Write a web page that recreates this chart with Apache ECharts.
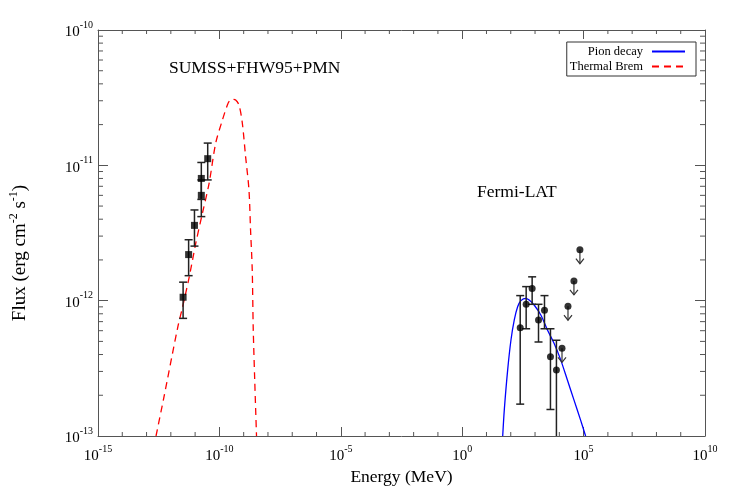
<!DOCTYPE html>
<html><head><meta charset="utf-8">
<script src="https://cdn.jsdelivr.net/npm/echarts@6/dist/echarts.min.js"></script>
<style>html,body{margin:0;padding:0;background:#fff}#c{width:732px;height:496px}</style>
</head><body><div id="c"></div>
<script>
// ---- data ----
const xMin = 1e-15, xMax = 1e10, yMin = 1e-13, yMax = 1e-10;
const xMinorTicks = [1e-14,1e-13,1e-12,1e-11,1e-9,1e-8,1e-7,1e-6,1e-4,1e-3,1e-2,1e-1,1e1,1e2,1e3,1e4,1e6,1e7,1e8,1e9];
const yMinorTicks = [2e-13,3e-13,4e-13,5e-13,6e-13,7e-13,8e-13,9e-13,2e-12,3e-12,4e-12,5e-12,6e-12,7e-12,8e-12,9e-12,2e-11,3e-11,4e-11,5e-11,6e-11,7e-11,8e-11,9e-11];

const radioE  = [3.2e-12, 5.4e-12, 9.4e-12, 1.8e-11, 1.8e-11, 3.3e-11];
const radioF  = [1.06e-12, 2.19e-12, 3.6e-12, 6.0e-12, 8.0e-12, 1.12e-11];
const radioLo = [7.4e-13, 1.53e-12, 2.53e-12, 4.18e-12, 5.6e-12, 7.8e-12];
const radioHi = [1.37e-12, 2.82e-12, 4.68e-12, 7.8e-12, 1.05e-11, 1.46e-11];

const fermiE  = [245, 431, 760, 1390, 2450, 4315, 7600];
const fermiF  = [6.3e-13, 9.4e-13, 1.23e-12, 7.2e-13, 8.5e-13, 3.85e-13, 3.07e-13];
const fermiLo = [1.72e-13, 6.2e-13, 9.4e-13, 4.95e-13, 6.2e-13, 1.57e-13, 1e-14];
const fermiHi = [1.09e-12, 1.27e-12, 1.50e-12, 9.4e-13, 1.09e-12, 6.2e-13, 5.1e-13];

const ulE = [12900, 22750, 40000, 70500];
const ulF = [4.45e-13, 9.1e-13, 1.40e-12, 2.38e-12];

const bremE = [2.45e-13, 4.93e-13, 1.90e-12, 3.05e-12, 5.73e-12, 1.07e-11, 2.01e-11, 3.78e-11, 7.05e-11, 1.33e-10, 2.13e-10, 2.64e-10, 3.41e-10, 4.66e-10, 6.41e-10, 8.77e-10, 1.20e-9, 1.65e-9, 1.92e-9, 2.25e-9, 2.47e-9, 2.85e-9, 3.38e-9];
const bremF = [1.0e-13, 1.85e-13, 6.28e-13, 9.0e-13, 1.50e-12, 2.67e-12, 4.45e-12, 7.4e-12, 1.46e-11, 2.16e-11, 2.79e-11, 3.0e-11, 3.08e-11, 3.04e-11, 2.79e-11, 2.06e-11, 1.16e-11, 6.58e-12, 3.33e-12, 1.69e-12, 6.28e-13, 2.59e-13, 1.0e-13];

const pionE = [46.6, 54.2, 74.6, 102, 139, 192, 262, 420, 573, 918, 1730, 3250, 6070, 11400, 21500, 40000, 75300, 121000];
const pionF = [1.0e-13, 1.56e-13, 3.08e-13, 5.12e-13, 7.19e-13, 9.02e-13, 1.0e-12, 1.04e-12, 1.01e-12, 9.29e-13, 7.83e-13, 6.07e-13, 4.84e-13, 3.65e-13, 2.59e-13, 1.85e-13, 1.31e-13, 1.0e-13];

// ---- chart ----
const FONT = 'Liberation Serif';
const AX = '#555';
const zip = (a, b) => a.map((v, i) => [v, b[i]]);
const zip3 = (a, b, c) => a.map((v, i) => [v, b[i], c[i]]);

function powLabel(v) {
  const e = Math.round(Math.log10(v));
  return '{b|10}{s|' + e + '}';
}
const labelRich = {
  b: { fontFamily: FONT, fontSize: 15, color: '#000', lineHeight: 20, verticalAlign: 'bottom' },
  s: { fontFamily: FONT, fontSize: 10, color: '#000', lineHeight: 20, verticalAlign: 'top' }
};

function xTickRender(params, api) {
  const cs = params.coordSys;
  const x = api.coord([api.value(0), yMin])[0];
  const len = 4;
  return { type: 'group', children: [
    { type: 'line', shape: { x1: x, y1: cs.y + cs.height, x2: x, y2: cs.y + cs.height - len }, style: { stroke: AX, lineWidth: 1 } },
    { type: 'line', shape: { x1: x, y1: cs.y, x2: x, y2: cs.y + len }, style: { stroke: AX, lineWidth: 1 } }
  ]};
}
function yTickRender(params, api) {
  const cs = params.coordSys;
  const y = api.coord([xMin, api.value(1)])[1];
  const len = 5;
  return { type: 'group', children: [
    { type: 'line', shape: { x1: cs.x, y1: y, x2: cs.x + len, y2: y }, style: { stroke: AX, lineWidth: 1 } },
    { type: 'line', shape: { x1: cs.x + cs.width, y1: y, x2: cs.x + cs.width - len, y2: y }, style: { stroke: AX, lineWidth: 1 } }
  ]};
}
function errRender(params, api) {
  const x = api.value(0);
  const lo = api.coord([x, api.value(1)]);
  const hi = api.coord([x, api.value(2)]);
  const w = 4;
  const st = { stroke: '#222', lineWidth: 1.5 };
  return { type: 'group', children: [
    { type: 'line', shape: { x1: lo[0], y1: lo[1], x2: hi[0], y2: hi[1] }, style: st },
    { type: 'line', shape: { x1: lo[0] - w, y1: lo[1], x2: lo[0] + w, y2: lo[1] }, style: st },
    { type: 'line', shape: { x1: hi[0] - w, y1: hi[1], x2: hi[0] + w, y2: hi[1] }, style: st }
  ]};
}
function arrowRender(params, api) {
  const p = api.coord([api.value(0), api.value(1)]);
  const L = 14;
  const st = { stroke: '#333', lineWidth: 1.2, fill: null };
  return { type: 'group', children: [
    { type: 'line', shape: { x1: p[0], y1: p[1], x2: p[0], y2: p[1] + L }, style: st },
    { type: 'polyline', shape: { points: [[p[0] - 4, p[1] + L - 5], [p[0], p[1] + L], [p[0] + 4, p[1] + L - 5]] }, style: st }
  ]};
}

const chart = echarts.init(document.getElementById('c'), null, { renderer: 'canvas' });
const axisCommonX = {
  type: 'log', logBase: 100000, min: xMin, max: xMax,
  axisLine: { lineStyle: { color: AX, width: 1 } },
  axisTick: { inside: true, length: 9, lineStyle: { color: AX } },
  splitLine: { show: false }, minorTick: { show: false }
};
const axisCommonY = {
  type: 'log', logBase: 10, min: yMin, max: yMax,
  axisLine: { lineStyle: { color: AX, width: 1 } },
  axisTick: { inside: true, length: 10, lineStyle: { color: AX } },
  splitLine: { show: false }, minorTick: { show: false }
};

chart.setOption({
  animation: false,
  backgroundColor: '#fff',
  grid: { left: 95, right: 27, top: 30, bottom: 60, containLabel: false },
  xAxis: [
    Object.assign({}, axisCommonX, {
      position: 'bottom',
      name: 'Energy (MeV)', nameLocation: 'middle', nameGap: 30,
      nameTextStyle: { fontFamily: FONT, fontSize: 17.5, color: '#000' },
      axisLabel: { formatter: powLabel, rich: labelRich, margin: 8 }
    }),
    Object.assign({}, axisCommonX, { position: 'top', axisLabel: { show: false } })
  ],
  yAxis: [
    Object.assign({}, axisCommonY, {
      position: 'left',
      name: 'Flux (erg cm{s|-2} s{s|-1})', nameLocation: 'middle', nameGap: 66,
      nameTextStyle: { fontFamily: FONT, fontSize: 19, color: '#000', padding: [0, 40, 0, 0],
        rich: { s: { fontFamily: FONT, fontSize: 12, color: '#000', verticalAlign: 'top', lineHeight: 24 } } },
      axisLabel: { formatter: powLabel, rich: labelRich, margin: 5 }
    }),
    Object.assign({}, axisCommonY, { position: 'right', axisLabel: { show: false } })
  ],
  legend: {
    data: ['Pion decay', 'Thermal Brem'],
    orient: 'vertical', align: 'right',
    right: 36, top: 42,
    borderColor: '#333', borderWidth: 1, borderRadius: 0,
    padding: [3, 10, 3, 3],
    itemWidth: 33, itemHeight: 10, itemGap: 2,
    itemStyle: { opacity: 0 },
    textStyle: { fontFamily: FONT, fontSize: 12.5, color: '#000', padding: [0, 4, 0, 0] }
  },
  graphic: [
    { type: 'text', left: 169, top: 59, style: { text: 'SUMSS+FHW95+PMN', fontFamily: FONT, fontSize: 17.5, fill: '#000' } },
    { type: 'text', left: 477, top: 183, style: { text: 'Fermi-LAT', fontFamily: FONT, fontSize: 17.5, fill: '#000' } }
  ],
  series: [
    { type: 'custom', name: 'xminor', silent: true, renderItem: xTickRender, data: xMinorTicks.map(v => [v, yMin]), z: 1 },
    { type: 'custom', name: 'yminor', silent: true, renderItem: yTickRender, data: yMinorTicks.map(v => [xMin, v]), z: 1 },
    { type: 'line', name: 'Thermal Brem', data: zip(bremE, bremF), showSymbol: false, symbol: 'none', smooth: 0.3,
      lineStyle: { color: '#ff0000', width: 1.3, type: [7, 5] }, itemStyle: { color: '#ff0000' }, z: 2 },
    { type: 'line', name: 'Pion decay', data: zip(pionE, pionF), showSymbol: false, symbol: 'none', smooth: 0.3,
      lineStyle: { color: '#0000ff', width: 1.3 }, itemStyle: { color: '#0000ff' }, z: 2 },
    { type: 'custom', name: 'radioErr', silent: true, clip: true, renderItem: errRender, data: zip3(radioE, radioLo, radioHi), encode: { x: 0, y: [1, 2] }, z: 3 },
    { type: 'custom', name: 'fermiErr', silent: true, clip: true, renderItem: errRender, data: zip3(fermiE, fermiLo, fermiHi), encode: { x: 0, y: [1, 2] }, z: 3 },
    { type: 'custom', name: 'ulArrow', silent: true, clip: true, renderItem: arrowRender, data: zip(ulE, ulF), z: 3 },
    { type: 'scatter', name: 'radio', data: zip(radioE, radioF), symbol: 'rect', symbolSize: 7, itemStyle: { color: '#000' }, z: 4 },
    { type: 'scatter', name: 'fermi', data: zip(fermiE, fermiF), symbol: 'circle', symbolSize: 7, itemStyle: { color: '#000' }, z: 4 },
    { type: 'scatter', name: 'ul', data: zip(ulE, ulF), symbol: 'circle', symbolSize: 7, itemStyle: { color: '#000' }, z: 4 }
  ]
});
</script>
</body></html>
